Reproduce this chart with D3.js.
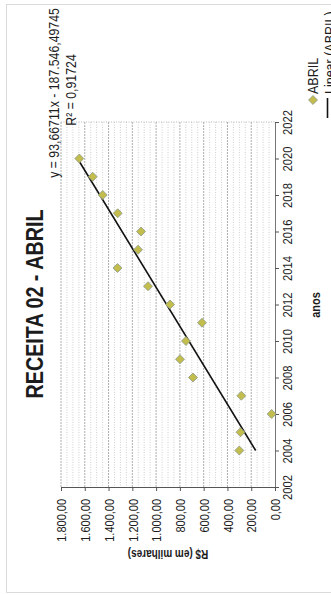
<!DOCTYPE html>
<html>
<head>
<meta charset="utf-8">
<script src="https://cdn.jsdelivr.net/npm/d3@7"></script>
<style>
  html, body { margin: 0; padding: 0; background: #fff; }
  svg { display: block; font-family: "Liberation Sans", Arial, sans-serif; }
</style>
</head>
<body>
<svg id="chart" width="331" height="595"></svg>
<script>
// ---- data ----
const years = [2004, 2005, 2006, 2007, 2008, 2009, 2010, 2011, 2012, 2013, 2014, 2015, 2016, 2017, 2018, 2019, 2020];
const values = [300, 290, 28, 283, 690, 799, 749, 614, 883, 1068, 1325, 1152, 1127, 1323, 1449, 1533, 1646];
const yearTicks = [2002, 2004, 2006, 2008, 2010, 2012, 2014, 2016, 2018, 2020, 2022];
const valueTicks = [0, 200, 400, 600, 800, 1000, 1200, 1400, 1600, 1800];
const valueTickLabels = ["0,00", "200,00", "400,00", "600,00", "800,00", "1.000,00", "1.200,00", "1.400,00", "1.600,00", "1.800,00"];
const trendCoef = [93.66711, -187546.49745];
const trendRange = [2004, 2020];
const titleText = "RECEITA 02 - ABRIL";
const eqText = "y = 93,66711x - 187.546,49745";
const r2Text = "R² = 0,91724";
const xTitle = "anos";
const yTitle = "R$ (em milhares)";
const legendLabels = ["ABRIL", "Linear (ABRIL)"];

// ---- layout (chart is rotated 90° CCW on the page) ----
const svg = d3.select("#chart");
svg.append("rect").attr("width", 331).attr("height", 595).attr("fill", "#fff");

const yearScale = d3.scaleLinear().domain([2002, 2022]).range([487, 122]);   // screen y
const valScale = d3.scaleLinear().domain([0, 1800]).range([275, 61]);        // screen x

const K = 1.2; // vertical glyph stretch seen in the scan

// outer border
svg.append("rect").attr("x", 6.5).attr("y", 4.5).attr("width", 345).attr("height", 588)
  .attr("fill", "none").attr("stroke", "#b5b5b5").attr("stroke-width", 1).attr("stroke-dasharray", "1,1");

function rtext(x, y, str, size, weight, anchor, rot, k) {
  return svg.append("text")
    .attr("transform", `translate(${x},${y}) rotate(${rot}) scale(1,${k})`)
    .attr("font-size", size).attr("font-weight", weight)
    .attr("text-anchor", anchor).attr("fill", "#1c1c1c").text(str);
}

// gridlines
const plot = svg.append("g");
const minor = d3.range(0, 1801, 50).filter(v => v % 200 !== 0);
plot.selectAll("line.minor").data(minor).join("line")
  .attr("x1", d => valScale(d)).attr("x2", d => valScale(d))
  .attr("y1", yearScale(2022)).attr("y2", yearScale(2002))
  .attr("stroke", "#c4c4c4").attr("stroke-width", 0.8).attr("stroke-dasharray", "1,1.5");
plot.selectAll("line.major").data(valueTicks.filter(v => v > 0)).join("line")
  .attr("x1", d => valScale(d)).attr("x2", d => valScale(d))
  .attr("y1", yearScale(2022)).attr("y2", yearScale(2002))
  .attr("stroke", "#999").attr("stroke-width", 0.8).attr("stroke-dasharray", "2,1");
plot.append("line")
  .attr("x1", valScale(1800)).attr("x2", valScale(0))
  .attr("y1", yearScale(2022)).attr("y2", yearScale(2022))
  .attr("stroke", "#aaa").attr("stroke-width", 0.8).attr("stroke-dasharray", "1,1.5");

// value axis (horizontal on page, at year 2002)
const vAxis = svg.append("g").attr("transform", `translate(0,${yearScale(2002)})`)
  .call(d3.axisBottom(valScale).tickValues(valueTicks).tickSize(4)
    .tickFormat((d, i) => valueTickLabels[i]));
vAxis.select(".domain").attr("stroke", "#555");
vAxis.selectAll(".tick line").attr("stroke", "#555");
vAxis.selectAll(".tick text")
  .attr("x", null).attr("y", null).attr("dy", "0.36em")
  .attr("transform", `translate(0,12) rotate(-90) scale(1,${K})`)
  .attr("text-anchor", "end").attr("font-size", 11)
  .attr("font-family", "Liberation Sans, Arial, sans-serif").attr("fill", "#1c1c1c");

// year axis (vertical on page, at value 0)
const yAxis = svg.append("g").attr("transform", `translate(${valScale(0)},0)`)
  .call(d3.axisRight(yearScale).tickValues(yearTicks).tickSize(4).tickFormat(d3.format("d")));
yAxis.select(".domain").attr("stroke", "#777");
yAxis.selectAll(".tick line").attr("stroke", "#555");
yAxis.selectAll(".tick text")
  .attr("x", null).attr("dy", null)
  .attr("transform", `translate(17,0) rotate(-90) scale(1,${K})`)
  .attr("text-anchor", "middle").attr("font-size", 11.2)
  .attr("font-family", "Liberation Sans, Arial, sans-serif").attr("fill", "#1c1c1c");

// trend line
plot.append("path")
  .datum(trendRange.map(t => [t, trendCoef[0] * t + trendCoef[1]]))
  .attr("d", d3.line().x(d => valScale(d[1])).y(d => yearScale(d[0])))
  .attr("stroke", "#111").attr("stroke-width", 1.6).attr("fill", "none");

// markers
const diamond = d3.symbol(d3.symbolSquare, 40);
svg.append("g").selectAll("path").data(years.map((y, i) => [y, values[i]])).join("path")
  .attr("transform", d => `translate(${valScale(d[1])},${yearScale(d[0])}) rotate(45)`)
  .attr("d", diamond)
  .attr("fill", "#c3bd4e").attr("stroke", "#8f9c88").attr("stroke-width", 0.8);

// texts
rtext(43, 304, titleText, 19.75, "bold", "middle", -90, K);
rtext(59, 93, eqText, 12.3, "normal", "middle", -90, 1.15);
rtext(76, 90, r2Text, 12.3, "normal", "middle", -90, 1.15);
rtext(320, 305, xTitle, 11, "bold", "middle", -90, K);
rtext(168, 550, yTitle, 10, "bold", "middle", 180, K);

// legend
svg.append("path").attr("transform", "translate(313,100) rotate(45)").attr("d", diamond)
  .attr("fill", "#c3bd4e").attr("stroke", "#8f9c88").attr("stroke-width", 0.8);
rtext(318, 94, legendLabels[0], 12.5, "normal", "start", -90, 1.1);
svg.append("line").attr("x1", 327.5).attr("x2", 327.5).attr("y1", 118).attr("y2", 98)
  .attr("stroke", "#111").attr("stroke-width", 1.6);
rtext(335, 94, legendLabels[1], 12.5, "normal", "start", -90, 1.1);
</script>
</body>
</html>
